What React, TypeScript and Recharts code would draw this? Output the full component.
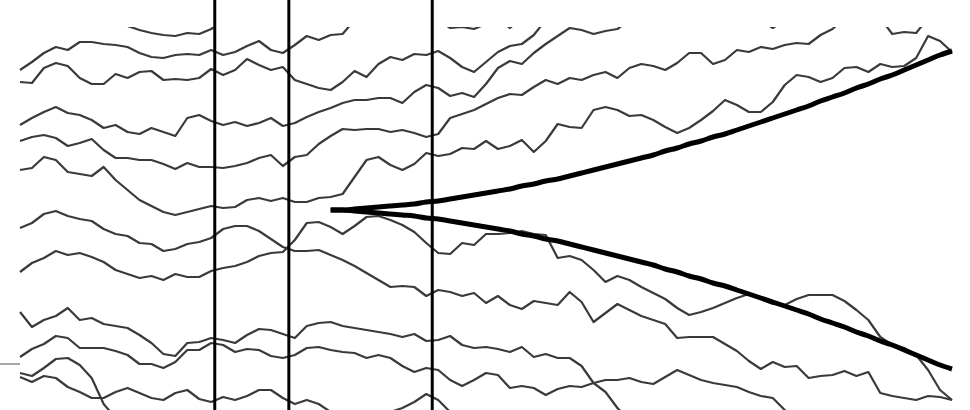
import { LineChart, Line, XAxis, YAxis, ReferenceLine } from 'recharts';

// time steps 0..78, values are level relative to the cone origin (up = positive)
const steps = Array.from({ length: 79 }, (_, i) => i);

const pathA = [
  null, null, null, null, null, null, null, null,
  189, 184, 180, 177, 175, 174, 177, 176, 181, 190,
  null, null, null, null, null, null, null, null, null, null, null, null, null, null, null, null, null,
  190, 182, 183, 181, 186, 192, 182, 192,
  null, null, null, null, null, null, null, null, null, null, null, null, null, null, null, null, null, null, null,
  190, 182, 190,
  null, null, null, null, null, null, null,
  192, 176, 178, 177, 192,
  null, null,
];
const pathB = [
  140, 148, 157, 163, 160, 168, 168, 166, 165, 163,
  157, 153, 152, 155, 156, 155, 160, 155, 158, 164,
  169, 160, 157, 165, 174, 170, 175, 176, 190,
  null, null, null, null, null, null, null, null, null, null,
  null, null, null, null, null, null, null, null, null, null,
  null, null, null, null, null, null, null, null, null, null,
  null, null, null, null, null, null, null, null, null, null,
  null, null, null, null, null, null, null, null, null, null,
];
const pathC = [
  128, 127, 142, 147, 144, 132, 126, 126, 136, 132,
  138, 139, 130, 131, 130, 132, 141, 135, 140, 151,
  145, 140, 143, 130, 126, 122, 120, 128, 139, 133,
  146, 153, 150, 156, 155, 159, 152, 143, 138, 148,
  158, 164, 166, 175, 190,
  null, null, null, null, null, null, null, null, null, null,
  null, null, null, null, null, null, null, null, null, null,
  null, null, null, null, null, null, null, null, null, null,
  null, null, null, null,
];
const pathD = [
  85, 92, 98, 103, 97, 95, 90, 82, 85, 78,
  76, 82, 78, 74, 92, 95, 89, 85, 88, 84,
  87, 92, 84, 87, 93, 98, 102, 107, 110, 110,
  112, 112, 107, 118, 125, 122, 114, 117, 113, 126,
  142, 149, 146, 157, 166, 174, 182, 180, 176, 179,
  181, 190,
  null, null, null, null, null, null, null, null, null, null,
  null, null, null, null, null, null, null, null, null, null,
  null, null, null, null, null, null, null,
];
const pathE = [
  69, 73, 75, 72, 64, 67, 71, 60, 52, 52,
  50, 50, 46, 41, 47, 43, 43, 42, 44, 47,
  52, 55, 44, 53, 55, 66, 74, 81, 80, 81,
  81, 78, 80, 77, 73, 76, 92, 96, 100, 106,
  112, 116, 115, 123, 130, 126, 132, 130, 135, 138,
  132, 142, 146, 144, 140, 147, 157, 157, 146, 150,
  160, 158, 163, 161, 165, 167, 166, 175, 181, 192,
  null, null, null, null, null, null, null, null, null,
];
const pathF = [
  40, 42, 53, 50, 38, 36, 34, 43, 30, 20,
  10, 4, -2, -5, -2, 1, 4, 2, 3, 10,
  12, 9, 12, 8, 8, 12, 13, 16, 33, 50,
  53, 45, 40, 46, 57, 54, 56, 62, 61, 69,
  61, 64, 70, 58, 69, 86, 83, 82, 100, 103,
  100, 94, 95, 90, 83, 77, 82, 90, 99, 110,
  105, 98, 98, 108, 125, 135, 133, 128, 132, 142,
  143, 138, 146, 143, 144, 152, 174, 169, 158,
];
const pathG = [
  -18, -13, -4, -1, -6, -9, -11, -19, -24, -26,
  -33, -34, -41, -39, -34, -32, -28, -19, -16, -16,
  -21, -29, -37, -41, -41, -40, -45, -50, -56, -63,
  -70, -77, -76, -77, -86, -80, -82, -86, -83, -93,
  -86, -95, -99, -91, -93, -95, -82, -92, -112, -103,
  -94, -100, -106, -110, -114, -128, -127, -127, -127, -134,
  -141, -151, -159, -152, -157, -156, -168, -166, -165, -161,
  -166, -162, -183, -186, -188, -190, -186, -187, -190,
];
const pathH = [
  -62, -53, -48, -41, -45, -43, -47, -52, -60, -64,
  -68, -66, -70, -64, -67, -67, -61, -58, -56, -52,
  -46, -43, -42, -30, -13, -12, -17, -24, -16, -7,
  -6, -10, -15, -22, -33, -43, -44, -33, -35, -24,
  -24, -23, -21, -24, -25, -48, -46, -50, -60, -72,
  -66, -70, -77, -83, -89, -98, -105, -102, -98, -93,
  -88, -84, -89, -94, -95, -89, -85, -85, -85, -91,
  -100, -110, -127, -135, -138, -145, -160, -180, -190,
];
const pathI = [
  -102, -117, -110, -106, -98, -110, -108, -114, -116, -118,
  -125, -133, -144, -146, -133, -132, -128, -130, -133, -125,
  -119, -120, -124, -128, -116, -113, -112, -116, -118, -120,
  -122, -124, -127, -124, -131, -130, -126, -135, -138, -137,
  -139, -142, -137, -147, -144, -148, -148, -156, -173, -182,
  -198, -210,
  null, null, null, null, null, null, null, null, null, null,
  null, null, null, null, null, null, null, null, null, null,
  null, null, null, null, null, null, null,
];
const pathJ = [
  -147, -139, -134, -126, -128, -138, -138, -138, -141, -145,
  -154, -154, -158, -152, -140, -140, -133, -135, -142, -139,
  -140, -146, -148, -145, -138, -137, -140, -142, -143, -148,
  -145, -148, -156, -162, -158, -160, -170, -176, -170, -163,
  -165, -178, -176, -178, -185, -179, -176, -177, -173, -170,
  -170, -168, -172, -174, -167, -160, -165, -170, -173, -175,
  -177, -182, -186, -188, -200, -210,
  null, null, null, null, null, null, null, null, null, null,
  null, null, null,
];
const pathK = [
  -163, -166, -158, -149, -148, -155, -168, -194, -208,
  null, null, null, null, null, null, null, null, null, null,
  null, null, null, null, null, null, null, null, null, null,
  null, null, null, null, null, null, null, null, null, null,
  null, null, null, null, null, null, null, null, null, null,
  null, null, null, null, null, null, null, null, null, null,
  null, null, null, null, null, null, null, null, null, null,
];
const pathL = [
  -167, -172, -166, -168, -177, -182, -188, -188, -182, -178,
  -183, -188, -190, -183, -180, -189, -192, -187, -190, -186,
  -180, -180, -188, -194, -190, -194, -202, -206, -208, -205,
  -206, -202, -198, -192, -184, -190, -202, -210,
  null, null, null, null, null, null, null, null, null, null,
  null, null, null, null, null, null, null, null, null, null,
  null, null, null, null, null, null, null, null, null, null,
  null, null, null, null, null, null, null, null, null, null,
  null,
];

const coneUpper = [
  null, null, null, null, null, null, null, null, null, null,
  null, null, null, null, null, null, null, null, null, null,
  null, null, null, null, null, null,
  0, 0, 1, 2, 3, 4, 5, 6, 8, 9,
  11, 13, 15, 17, 19, 21, 24, 26, 29, 31,
  34, 37, 40, 43, 46, 49, 52, 55, 59, 62,
  66, 69, 73, 76, 80, 84, 88, 92, 96, 100,
  104, 109, 113, 117, 122, 126, 131, 135, 140, 145,
  150, 155, 159,
];
const coneLower = [
  null, null, null, null, null, null, null, null, null, null,
  null, null, null, null, null, null, null, null, null, null,
  null, null, null, null, null, null,
  0, 0, -1, -2, -3, -4, -5, -6, -8, -9,
  -11, -13, -15, -17, -19, -21, -24, -26, -29, -31,
  -34, -37, -40, -43, -46, -49, -52, -55, -59, -62,
  -66, -69, -73, -76, -80, -84, -88, -92, -96, -100,
  -104, -109, -113, -117, -122, -126, -131, -135, -140, -145,
  -150, -155, -159,
];

const markers = [16.3, 22.5, 34.5];
const leftTickLevel = -154;

const paths = { pathA, pathB, pathC, pathD, pathE, pathF, pathG, pathH, pathI, pathJ, pathK, pathL };
const pathKeys = Object.keys(paths);

const data = steps.map((step, i) => {
  const row: Record<string, number | null> = { step, coneUpper: coneUpper[i], coneLower: coneLower[i] };
  pathKeys.forEach((k) => {
    row[k] = (paths as Record<string, (number | null)[]>)[k][i];
  });
  return row;
});

export default function App() {
  return (
    <div style={{ position: 'absolute', left: 0, top: 0, background: '#fff' }}>
      <LineChart width={970} height={410} data={data} margin={{ top: 27, right: 18, bottom: 0, left: 0 }}>
        <XAxis type="number" dataKey="step" domain={[0, 78]} hide />
        <YAxis
          type="number"
          domain={[-200, 183]}
          allowDataOverflow
          width={20}
          tick={false}
          tickLine={false}
          axisLine={false}
        />
        {pathKeys.map((k) => (
          <Line
            key={k}
            type="linear"
            dataKey={k}
            stroke="#3a3a3a"
            strokeWidth={2.2}
            strokeLinejoin="round"
            dot={false}
            connectNulls={false}
            isAnimationActive={false}
          />
        ))}
        <Line type="monotone" dataKey="coneUpper" stroke="#000" strokeWidth={5} dot={false} isAnimationActive={false} />
        <Line type="monotone" dataKey="coneLower" stroke="#000" strokeWidth={5} dot={false} isAnimationActive={false} />
        {markers.map((m) => (
          <ReferenceLine
            key={m}
            segment={[{ x: m, y: 210 }, { x: m, y: -200 }]}
            ifOverflow="visible"
            stroke="#000"
            strokeWidth={3}
          />
        ))}
        <ReferenceLine
          segment={[{ x: -1.68, y: leftTickLevel }, { x: 0, y: leftTickLevel }]}
          ifOverflow="visible"
          stroke="#8a8a8a"
          strokeWidth={1.5}
        />
      </LineChart>
    </div>
  );
}
